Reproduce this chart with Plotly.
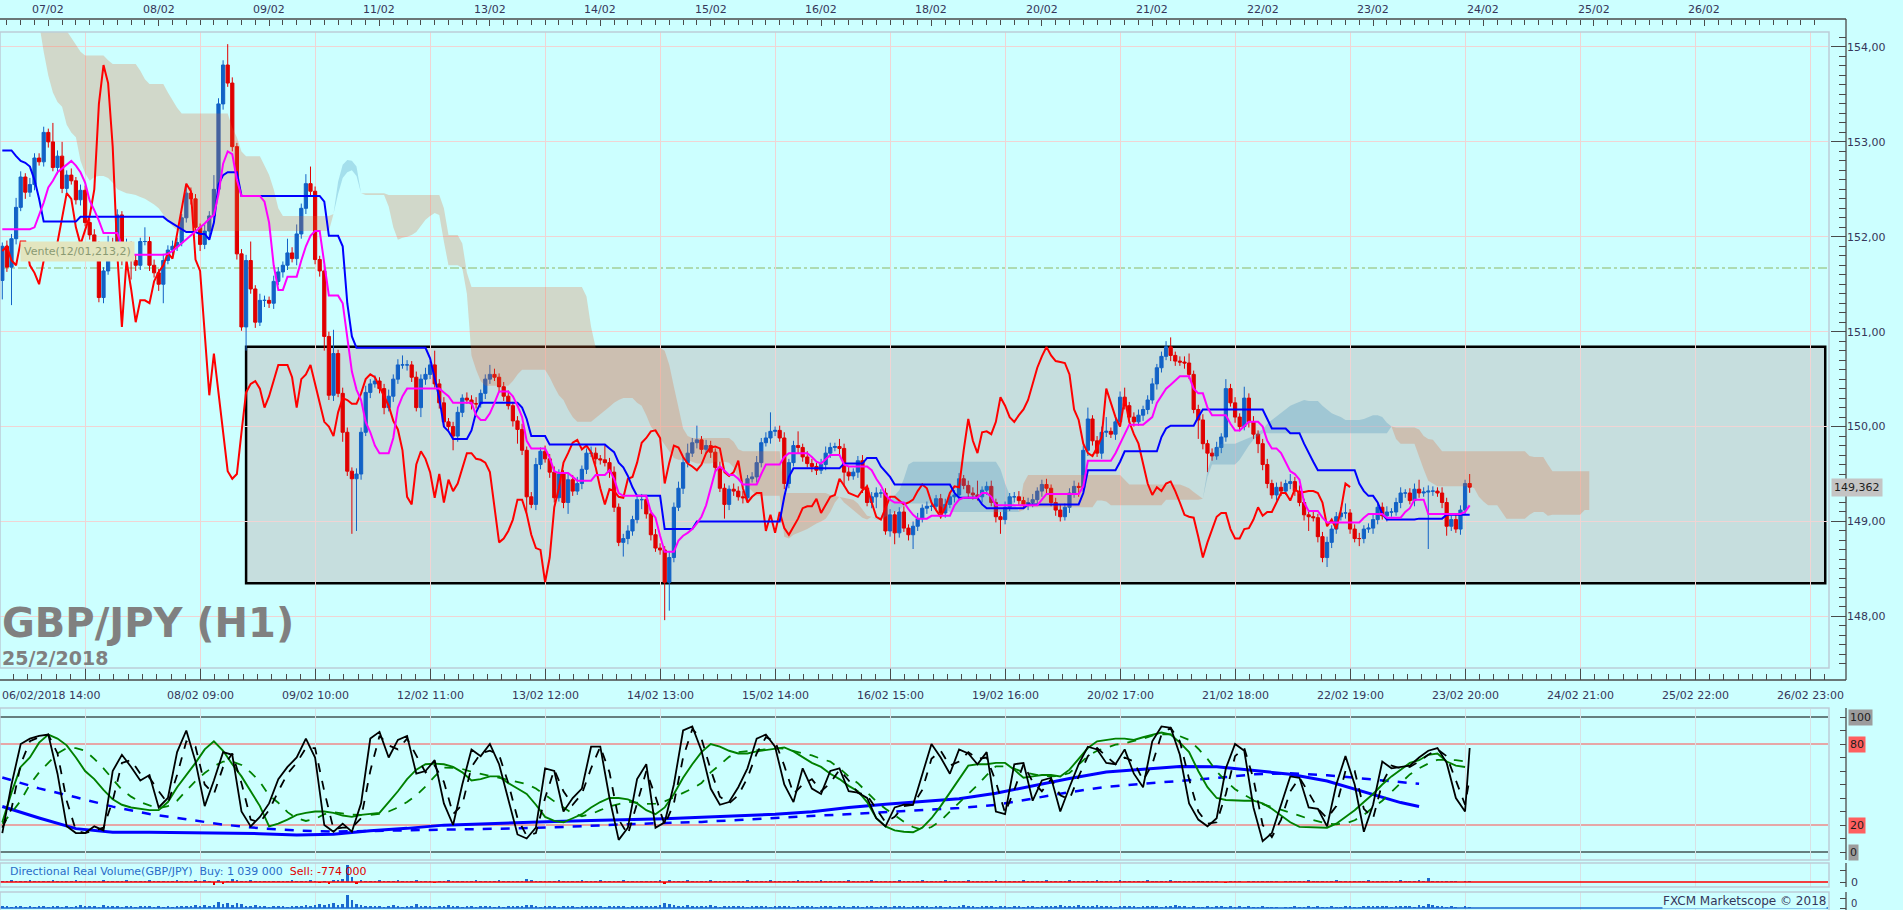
import plotly.graph_objects as go

W, H = 1903, 910

# ---------------- data ----------------
first_open = 151.54
closes = [
    151.90, 151.68, 151.98, 152.31, 152.63, 152.47, 152.55, 152.83, 152.79, 153.10,
    153.00, 152.73, 152.85, 152.51, 152.65, 152.59, 152.39, 152.49, 152.15, 152.02,
    151.90, 151.36, 151.64, 151.94, 151.92, 152.23, 151.85, 151.90, 151.75, 151.70,
    151.95, 151.95, 151.70, 151.62, 151.50, 151.75, 151.86, 151.90, 151.94, 152.20,
    152.46, 152.40, 152.10, 151.92, 152.06, 152.22, 152.50, 153.40, 153.81, 153.62,
    152.95, 151.82, 151.05, 151.75, 151.45, 151.10, 151.33, 151.33, 151.30, 151.53,
    151.63, 151.70, 151.83, 151.77, 152.03, 152.30, 152.56, 152.48, 151.76, 151.64,
    150.95, 150.33, 150.77, 150.35, 149.94, 149.53, 149.45, 149.50, 149.94, 150.36,
    150.45, 150.48, 150.40, 150.20, 150.32, 150.50, 150.65, 150.65, 150.65, 150.52,
    150.20, 150.50, 150.55, 150.65, 150.45, 150.25, 150.05, 150.00, 149.90, 150.15,
    150.30, 150.28, 150.24, 150.24, 150.35, 150.50, 150.55, 150.52, 150.42, 150.32,
    150.22, 150.06, 149.97, 149.75, 149.26, 149.18, 149.60, 149.74, 149.66, 149.52,
    149.25, 149.50, 149.20, 149.44, 149.32, 149.40, 149.55, 149.72, 149.72, 149.66,
    149.65, 149.62, 149.52, 149.15, 148.78, 148.82, 148.90, 149.02, 149.23, 149.23,
    149.08, 148.86, 148.72, 148.70, 148.36, 148.62, 149.15, 149.35, 149.62, 149.72,
    149.83, 149.86, 149.76, 149.80, 149.73, 149.57, 149.35, 149.18, 149.34, 149.32,
    149.26, 149.25, 149.45, 149.47, 149.62, 149.83, 149.88, 149.95, 149.96, 149.88,
    149.40, 149.62, 149.80, 149.78, 149.68, 149.61, 149.58, 149.54, 149.60, 149.72,
    149.78, 149.79, 149.77, 149.52, 149.48, 149.52, 149.64, 149.35, 149.20, 149.26,
    149.30, 149.30, 148.90, 149.07, 148.88, 149.10, 148.93, 148.86, 148.95, 149.03,
    149.14, 149.16, 149.16, 149.24, 149.09, 149.18, 149.26, 149.28, 149.45, 149.38,
    149.30, 149.28, 149.26, 149.33, 149.37, 149.20, 149.05, 149.02, 149.15, 149.26,
    149.26, 149.22, 149.18, 149.20, 149.23, 149.32, 149.39, 149.35, 149.20, 149.12,
    149.05, 149.15, 149.30, 149.37, 149.36, 149.75, 150.08, 149.85, 149.72, 149.94,
    149.95, 149.92, 150.05, 150.31, 150.22, 150.10, 150.05, 150.12, 150.18, 150.28,
    150.45, 150.62, 150.74, 150.84, 150.75, 150.69, 150.68, 150.67, 150.55, 150.18,
    150.07, 149.82, 149.72, 149.69, 149.78, 149.89, 150.40, 150.25, 150.10, 150.00,
    150.30, 150.05, 149.92, 149.82, 149.60, 149.40, 149.28, 149.36, 149.32, 149.40,
    149.42, 149.32, 149.20, 149.07, 149.05, 149.04, 148.84, 148.62, 148.78, 148.92,
    149.05, 149.09, 149.09, 148.92, 148.82, 148.82, 148.92, 148.93, 149.02, 149.15,
    149.06, 149.10, 149.10, 149.20, 149.30, 149.30, 149.22, 149.34, 149.30, 149.31,
    149.32, 149.32, 149.30, 149.20, 148.95, 149.02, 148.92, 149.12, 149.40, 149.362,
]
# wick lengths in pips (0.01)
wick_up = [
    4,6,5,10,6,4,7,5,5,6,4,20,6,15,5,7,4,6,5,4,
    6,5,4,7,5,6,4,8,5,6,4,15,5,6,4,7,5,6,5,4,
    10,6,5,4,7,5,15,6,5,22,6,4,5,6,20,4,7,5,4,6,
    5,4,15,6,10,5,10,18,5,4,6,5,25,4,6,5,4,6,5,7,
    5,6,4,5,7,5,6,10,5,4,6,5,7,4,15,5,6,4,5,6,
    4,6,5,7,4,5,10,6,4,5,6,4,5,6,4,5,7,4,6,5,
    6,5,4,6,5,7,4,5,7,6,4,15,5,6,4,5,6,4,5,6,
    5,4,6,5,4,6,5,7,6,10,5,15,4,6,5,4,6,5,4,6,
    5,6,4,5,7,5,6,20,4,5,6,4,5,15,4,6,5,4,6,7,
    5,4,8,5,6,4,5,6,4,5,6,4,5,6,4,5,6,4,5,6,
    4,5,6,4,5,6,4,5,6,4,5,6,15,4,5,6,4,5,6,4,
    5,6,4,5,6,4,5,6,4,5,6,4,5,6,4,5,12,4,5,6,
    15,4,5,6,10,4,5,6,4,5,6,4,5,6,10,4,5,6,10,4,
    5,6,4,5,6,4,10,5,6,4,12,5,6,4,5,6,4,5,6,4,
    8,5,6,4,5,6,4,5,6,4,5,6,10,4,5,6,4,5,6,4,
    5,6,4,5,6,4,5,6,10,5,6,5,4,6,5,4,6,5,4,10,
]
wick_dn = [
    20,5,40,6,4,7,5,6,4,5,6,4,7,5,6,4,5,6,4,5,
    6,5,6,4,7,5,15,4,20,6,5,4,6,5,7,20,4,6,5,4,
    5,6,4,7,5,6,4,5,6,4,5,6,4,25,5,6,4,7,5,6,
    4,6,5,4,7,5,6,4,5,6,15,5,6,4,10,5,58,55,6,4,
    6,4,5,7,4,6,5,4,6,5,4,10,6,5,4,6,5,4,15,6,
    5,4,6,5,4,6,5,4,6,5,4,6,15,5,20,4,6,5,4,6,
    5,4,6,12,5,4,6,5,4,6,5,4,6,5,4,15,6,5,4,10,
    5,6,4,5,40,30,5,4,6,5,4,6,5,4,6,5,4,15,6,5,
    4,6,5,4,6,5,4,6,5,4,6,5,4,6,5,4,6,5,4,6,
    5,4,6,15,5,4,6,5,4,6,12,5,4,6,12,5,4,6,15,5,
    4,6,5,4,6,5,4,6,5,4,6,5,4,6,5,4,6,15,5,4,
    6,5,4,6,5,4,6,5,4,6,5,4,6,5,10,4,6,5,4,6,
    5,4,6,5,4,6,5,4,6,5,4,6,5,4,6,5,4,6,5,4,
    20,6,20,5,4,6,5,4,6,5,4,6,5,10,6,5,4,6,5,4,
    6,5,4,6,15,4,6,5,10,6,5,4,6,5,4,8,5,4,6,5,
    4,6,5,4,6,5,4,6,5,4,60,5,4,6,10,5,4,6,5,6,
]
# Ichimoku lines, as (value, number of bars) runs
tenkan_runs = [
    (152.08,7),(152.10,1),(152.22,1),(152.36,1),(152.52,1),(152.59,1),(152.68,1),(152.72,1),(152.76,1),(152.80,1),
    (152.75,1),(152.68,1),(152.57,1),(152.38,1),(152.28,1),(152.17,1),(152.04,4),(151.90,1),(151.84,1),(151.81,8),
    (151.82,1),(151.85,1),(151.89,1),(151.93,1),(151.98,1),(152.01,1),(152.05,1),(152.09,1),(152.14,1),(152.19,1),
    (152.23,1),(152.45,1),(152.77,1),(152.90,1),(152.87,1),(152.60,1),(152.43,5),(152.37,1),(152.15,1),(151.70,1),
    (151.44,2),(151.58,3),(151.75,1),(151.90,1),(152.01,1),(152.06,2),(151.72,1),(151.38,3),(151.30,1),(150.95,1),
    (150.58,1),(150.39,1),(150.28,1),(150.05,1),(149.94,1),(149.80,1),(149.72,3),(149.88,1),(150.20,1),(150.32,1),
    (150.40,8),(150.36,1),(150.32,1),(150.25,5),(150.12,1),(150.07,2),(150.14,1),(150.25,1),(150.37,3),(150.32,1),
    (150.22,1),(150.10,1),(149.85,1),(149.77,4),(149.67,1),(149.53,1),(149.51,3),(149.47,1),(149.43,4),(149.49,3),
    (149.54,1),(149.45,1),(149.30,1),(149.27,6),(149.10,1),(149.04,1),(148.85,1),(148.68,3),(148.80,1),(148.85,1),
    (148.88,1),(148.92,1),(148.98,1),(149.05,1),(149.17,1),(149.35,1),(149.53,1),(149.58,1),(149.54,1),(149.49,2),
    (149.45,1),(149.39,4),(149.50,1),(149.60,4),(149.68,1),(149.72,5),(149.68,1),(149.63,1),(149.61,1),(149.66,1),
    (149.70,3),(149.60,1),(149.58,5),(149.54,1),(149.45,1),(149.38,1),(149.28,1),(149.23,1),(149.20,3),(149.13,1),
    (149.07,1),(149.03,3),(149.06,5),(149.17,1),(149.23,1),(149.25,4),(149.30,2),(149.26,1),(149.17,10),(149.23,1),
    (149.29,8),(149.37,1),(149.64,6),(149.72,1),(149.82,1),(149.93,1),(150.02,4),(150.06,1),(150.10,1),(150.25,1),
    (150.32,1),(150.40,1),(150.44,1),(150.48,1),(150.53,3),(150.40,1),(150.35,2),(150.20,1),(150.12,4),(150.03,1),
    (149.96,2),(150.00,1),(150.05,3),(150.00,1),(149.85,1),(149.77,2),(149.72,1),(149.62,1),(149.53,1),(149.50,1),
    (149.44,1),(149.20,1),(149.11,3),(149.04,1),(148.99,8),(149.04,1),(149.08,4),(149.04,4),(149.10,1),(149.14,1),
    (149.23,3),(149.08,8),(149.10,1),(149.17,1),
]
kijun_runs = [
    (152.91,3),(152.85,1),(152.80,1),(152.78,1),(152.74,1),(152.60,1),(152.40,1),(152.16,8),(152.21,19),
    (152.17,1),(152.14,1),(152.11,1),(152.08,1),(152.05,3),(152.03,2),(151.97,1),(152.15,1),(152.55,1),(152.65,1),(152.68,3),
    (152.43,18),(152.37,1),(152.01,3),(151.90,1),(151.30,1),(150.95,1),(150.83,16),(150.72,1),(150.50,1),(150.30,1),(150.00,1),
    (149.95,1),(149.87,4),(149.96,1),(150.15,1),(150.25,9),(150.20,1),(150.08,1),(149.90,4),(149.81,13),(149.77,1),(149.73,1),
    (149.62,1),(149.57,1),(149.48,1),(149.36,1),(149.27,6),(148.92,7),(149.00,19),(149.26,1),(149.47,1),(149.56,11),(149.61,5),
    (149.67,3),(149.58,1),(149.52,1),(149.47,1),(149.39,13),(149.30,1),(149.25,5),(149.18,1),(149.14,9),(149.18,12),(149.30,1),
    (149.54,7),(149.63,1),(149.74,8),(149.89,1),(149.98,1),(150.01,6),(150.10,1),(150.18,14),(150.08,1),(149.98,4),(149.93,3),
    (149.82,1),(149.72,1),(149.63,1),(149.54,9),(149.40,1),(149.32,1),(149.27,2),(149.20,1),(149.08,1),(149.02,7),(149.03,6),(149.07,6),
]
span_a_runs = [
    (154.40,8),(154.25,1),(153.95,1),(153.70,1),(153.52,1),(153.42,1),(153.37,1),(153.18,1),(153.10,1),(153.05,1),
    (152.80,1),(152.67,1),(152.59,1),(152.63,1),(152.64,2),(152.62,1),(152.57,1),(152.50,1),(152.48,1),(152.46,1),(152.45,1),
    (152.44,1),(152.42,1),(152.40,1),(152.37,1),(152.34,1),(152.30,1),(152.23,1),(152.17,1),(152.11,1),(152.07,1),(152.06,33),
    (152.24,1),(152.58,1),(152.76,1),(152.81,1),(152.80,1),(152.74,1),(152.46,1),(152.44,5),(152.32,1),(152.10,1),(151.97,1),
    (151.99,1),(152.00,1),(152.02,1),(152.05,1),(152.11,1),(152.18,1),(152.22,1),(152.25,1),(152.23,1),(151.95,1),(151.70,3),
    (151.67,1),(151.40,1),(150.75,1),(150.60,1),(150.48,1),(150.43,6),(150.48,1),(150.55,1),(150.60,6),(150.52,1),(150.42,1),
    (150.33,1),(150.28,1),(150.18,1),(150.10,1),(150.05,4),(150.10,1),(150.14,1),(150.17,1),(150.21,1),(150.25,1),(150.28,1),
    (150.30,3),(150.25,1),(150.22,1),(150.12,1),(150.00,1),(149.94,1),(149.88,1),(149.82,1),(149.74,1),(149.67,1),(149.65,3),
    (149.63,1),(149.61,4),(149.63,3),(149.62,1),(149.57,1),(149.46,1),(149.42,1),(149.37,1),(149.32,1),(149.27,6),(148.84,1),
    (148.82,1),(148.86,1),(148.88,1),(148.90,1),(148.92,1),(148.95,1),(148.98,1),(149.00,1),(149.03,1),(149.10,1),(149.20,1),
    (149.26,1),(149.20,1),(149.17,1),(149.12,1),(149.08,1),(149.04,1),(149.02,1),(149.05,1),(149.03,1),(149.05,1),(149.16,1),
    (149.22,1),(149.28,1),(149.33,1),(149.45,1),(149.60,1),(149.63,19),(149.55,1),(149.40,1),(149.28,1),(149.18,1),(149.11,1),
    (149.12,1),(149.15,15),(149.22,2),(149.21,1),(149.17,12),(149.23,8),(149.24,1),(149.54,1),(149.68,1),(149.78,1),(149.82,4),
    (149.84,1),(149.86,1),(149.88,1),(149.90,1),(149.94,1),(149.97,1),(150.03,1),(150.07,1),(150.11,1),(150.15,1),(150.19,1),
    (150.22,1),(150.24,1),(150.26,1),(150.28,1),(150.27,3),(150.22,1),(150.18,1),(150.14,1),(150.12,1),(150.10,1),(150.07,4),
    (150.08,1),(150.10,1),(150.12,2),(150.10,1),(150.04,1),(150.00,1),(149.87,1),(149.82,4),(149.68,1),(149.55,1),(149.43,1),
    (149.40,1),(149.37,8),(149.35,1),(149.26,1),(149.21,1),(149.17,3),(149.10,1),(149.03,5),(149.07,1),(149.10,3),(149.06,1),
    (149.07,7),(149.12,2),
]
span_b_runs = [
    (154.60,8),(154.40,6),(154.17,1),(154.10,1),(154.03,1),(153.95,1),(153.91,5),(153.86,1),(153.82,6),(153.75,1),
    (153.66,1),(153.61,4),(153.52,1),(153.44,1),(153.36,1),(153.30,11),(153.15,1),(153.05,1),(152.90,1),(152.85,4),(152.75,1),
    (152.65,1),(152.50,1),(152.30,1),(152.22,11),(152.24,1),(152.45,1),(152.62,1),(152.68,1),(152.70,1),(152.64,1),(152.46,1),
    (152.46,5),(152.44,12),(152.30,1),(152.02,3),(151.93,1),(151.62,1),(151.47,25),(151.37,1),(151.05,1),(150.83,15),(150.80,1),(150.65,1),
    (150.42,1),(150.20,1),(149.98,1),(149.90,1),(149.88,9),(149.84,1),(149.76,1),(149.74,9),(149.30,10),(149.28,1),(149.27,1),
    (149.26,1),(149.25,1),(149.24,1),(149.23,1),(149.19,1),(149.12,1),(149.06,1),(149.05,1),(149.02,2),(149.05,1),(149.08,1),
    (149.10,1),(149.12,1),(149.17,1),(149.19,7),(149.16,1),(149.13,1),(149.10,16),(149.40,1),(149.49,21),(149.44,1),(149.39,12),
    (149.37,1),(149.35,1),(149.31,1),(149.27,1),(149.24,1),(149.47,1),(149.60,6),(149.65,1),(149.72,1),(149.80,1),(149.86,1),
    (149.90,1),(149.93,28),(150.00,1),(149.99,5),(149.97,1),(149.90,1),(149.87,1),(149.86,1),(149.80,1),(149.74,19),(149.69,1),
    (149.68,3),(149.60,1),(149.53,9),
]
# oscillator panel
fast_x = list(range(0, 320, 2)) + [319]
stoch_k = [
    14, 50, 80, 84, 86, 87, 58, 19, 14, 14,
    19, 16, 60, 72, 63, 53, 57, 33, 40, 74,
    90, 67, 34, 53, 74, 72, 30, 19, 26, 36,
    54, 63, 70, 84, 70, 20, 15, 21, 15, 36,
    84, 89, 70, 83, 86, 58, 60, 68, 36, 20,
    50, 76, 71, 80, 65, 38, 13, 10, 18, 62,
    60, 30, 40, 47, 78, 78, 40, 9, 18, 54,
    65, 18, 22, 50, 90, 93, 75, 47, 35, 37,
    48, 62, 84, 87, 78, 50, 37, 62, 47, 43,
    60, 62, 45, 44, 40, 25, 19, 33, 35, 35,
    58, 80, 70, 58, 76, 73, 65, 74, 30, 28,
    65, 66, 38, 53, 55, 30, 48, 65, 78, 76,
    66, 65, 76, 58, 48, 82, 93, 92, 72, 36,
    24, 19, 25, 62, 80, 75, 33, 8, 14, 35,
    56, 55, 33, 32, 19, 50, 71, 50, 15, 35,
    67, 62, 63, 64, 70, 75, 77, 66, 40, 30,
    77,
]
stoch_d = [
    18, 32, 65, 82, 85, 87, 73, 38, 16, 14,
    16, 18, 38, 66, 68, 58, 55, 45, 36, 57,
    82, 78, 50, 43, 63, 73, 51, 24, 22, 31,
    45, 58, 66, 77, 77, 45, 17, 18, 18, 25,
    60, 86, 79, 76, 84, 72, 59, 64, 52, 28,
    35, 63, 73, 75, 72, 51, 25, 12, 14, 40,
    61, 45, 35, 43, 62, 78, 59, 24, 13, 36,
    60, 41, 20, 36, 70, 91, 84, 61, 41, 36,
    42, 55, 73, 85, 82, 64, 43, 50, 54, 45,
    51, 61, 53, 44, 42, 32, 22, 26, 34, 35,
    46, 69, 75, 64, 67, 74, 69, 70, 52, 29,
    46, 65, 52, 45, 54, 42, 39, 56, 71, 77,
    71, 65, 70, 67, 53, 65, 87, 92, 82, 54,
    30, 21, 22, 43, 71, 77, 54, 20, 11, 24,
    45, 55, 44, 32, 25, 34, 60, 60, 32, 25,
    51, 64, 62, 63, 67, 72, 76, 71, 53, 35,
    55,
]
slow_x = list(range(0, 320, 2))
green_k = [
    22, 44, 63, 70, 81, 87, 84, 79, 70, 60,
    54, 46, 39, 35, 33, 32, 31, 31, 37, 48,
    57, 66, 76, 82, 75, 65, 56, 45, 34, 19,
    21, 24, 27.5, 29, 30, 30, 29, 27, 26, 27.5,
    28, 29, 37, 45, 54, 61, 65, 65.5, 65, 63,
    59, 53, 54, 56, 56, 51, 47, 43, 35, 26,
    23, 22, 25, 28, 33, 37, 40, 40, 39, 36,
    31, 28, 33, 43, 55, 65, 74, 80, 78, 75,
    73, 73, 74.5, 75.5, 77, 77.5, 74.5, 70, 66, 63,
    58, 54, 49, 45, 37, 25, 19, 16, 15, 14.6,
    18, 25, 34, 44, 54, 64, 65, 65, 66, 66,
    61, 55, 56, 57, 57, 56, 61, 69, 77, 82,
    83, 84, 84, 83, 85, 87, 88.5, 87, 81, 74,
    60, 48, 40, 38.5, 38, 38, 38, 36, 32, 27,
    22, 18.6, 18.5, 18.2, 18, 21, 26, 31, 37, 43,
    50, 56, 61, 66, 68, 72, 73, 67, 64, 63,
]
green_d = [
    21, 29, 38, 50, 59, 66, 73, 77, 77, 75,
    69, 62, 54, 46, 41, 37, 34.5, 32.5, 34, 38,
    45.5, 52.5, 58.5, 63.5, 67, 67, 64.5, 59, 52, 42,
    36.5, 29.5, 25, 23, 24.5, 28, 29.5, 28.7, 27.6, 27.5,
    27.5, 28.2, 30, 33, 37, 42, 48.5, 56, 62.5, 62.3,
    61.5, 59.5, 58, 56.5, 54.7, 53.7, 52, 50.3, 47, 42,
    37.5, 33, 28.5, 26.5, 28, 31, 33.7, 35.5, 37.2, 36.5,
    35.6, 35.8, 37.5, 40.5, 43.5, 47, 51, 59, 64.6, 70.5,
    74, 75, 75.5, 76, 77, 76.5, 75, 73.5, 71.5, 69,
    67, 62, 56, 51, 44.5, 37.5, 32, 27, 22.5, 18.5,
    16.5, 18.5, 23, 30, 36.5, 42.5, 49.5, 57, 63.5, 63.5,
    61.8, 59, 57.5, 56.5, 56, 56.5, 58.5, 65, 71, 75,
    77.5, 79.5, 80.5, 82, 84, 86.2, 87.2, 87.2, 85.8, 83,
    76.5, 69, 59.7, 52.5, 46.5, 42.3, 38.5, 35.5, 33.5, 31,
    29, 27, 24.5, 23, 21, 20.5, 21.2, 23.5, 27.5, 33,
    38, 44.5, 51, 57.5, 62, 65.5, 68.3, 68.3, 68, 67,
]
blue_x = list(range(0, 305, 8)) + [308]
blue_k = [33.7, 25.2, 17.3, 14.6, 14.6, 14.4, 14.1, 13.6, 12.6, 13.1,
          15.8, 17.5, 19.9, 20.9, 21.7, 22.5, 23.3, 23.9, 24.7, 25.7,
          26.6, 28.0, 29.8, 32.9, 35.4, 37.3, 39.5, 43.5, 49.0, 54.5,
          59.2, 61.5, 63.4, 63.2, 60.3, 57.6, 52.6, 44.7, 36.6, 33.7]
blue_d = [55.2, 47.1, 40.5, 33.6, 28.1, 24.0, 20.3, 17.6, 15.9, 15.1,
          15.6, 15.9, 16.2, 16.8, 17.5, 18.3, 19.6, 20.6, 21.5, 22.3,
          23.7, 25.2, 26.6, 28.0, 29.3, 31.1, 32.5, 34.9, 39.5, 44.3,
          48.3, 50.4, 52.7, 54.9, 57.5, 58.4, 56.9, 54.2, 51.4, 50.5]
# volume panels
vol_net = [
    1,1,2,1,1,1,2,1,1,1,1,2,1,1,1,1,2,1,1,1,
    1,1,2,1,1,1,1,2,1,1,1,1,2,1,1,1,1,1,2,1,
    1,1,2,1,2,1,-3,2,-2,1,3,2,1,1,2,1,1,1,1,1,
    1,1,1,2,1,1,1,2,1,-1,1,-2,2,2,3,17,5,-2,2,1,
    1,1,2,1,1,1,2,1,1,1,2,1,1,1,-1,1,1,2,1,1,
    1,1,1,2,1,1,1,1,2,1,1,1,1,1,3,2,1,1,1,1,
    1,2,1,1,1,1,2,1,1,1,2,1,1,1,1,2,1,1,1,1,
    1,1,1,2,-2,2,1,1,1,2,1,1,1,1,2,1,1,1,1,1,
    1,1,2,1,1,1,1,2,1,1,1,1,1,2,1,1,1,1,2,1,
    1,1,1,1,2,1,1,1,1,2,1,1,1,1,1,2,1,1,1,1,
    2,1,1,1,1,2,1,1,1,1,2,1,1,1,1,1,2,1,1,1,
    1,1,2,1,1,1,1,2,1,1,1,1,2,1,1,1,1,1,2,1,
    1,1,1,2,1,1,1,1,1,2,1,1,1,1,2,1,1,1,1,1,
    1,1,1,1,1,0,-1,1,1,1,0,1,1,1,1,1,1,1,0,1,
    1,1,1,1,2,1,1,1,1,1,2,1,1,1,1,1,1,2,1,1,
    1,1,1,1,2,1,1,1,2,1,4,1,1,1,1,1,1,0,1,1,
]
vol_total = [
    2,2,1,2,2,1,2,1,2,2,1,2,2,1,2,1,2,3,2,2,
    2,1,3,2,2,2,1,2,2,1,2,2,2,1,2,1,2,1,2,2,
    2,2,3,2,3,2,3,6,4,5,3,5,4,2,2,3,2,2,1,2,
    2,2,1,2,2,2,3,2,3,4,3,4,5,3,4,13,8,4,3,2,
    2,2,2,1,2,3,2,1,2,2,4,2,2,2,1,2,2,3,2,2,
    1,2,2,1,2,2,2,1,2,1,2,2,2,2,3,3,2,1,2,2,
    2,1,2,2,2,1,2,2,2,2,2,1,2,2,2,2,1,2,2,2,
    2,2,2,3,5,4,3,2,2,3,2,2,2,2,3,2,1,2,2,2,
    2,2,1,2,2,2,2,1,2,2,2,2,1,2,2,2,2,1,2,2,
    2,1,2,2,1,2,2,1,2,2,1,2,2,1,2,2,2,1,2,2,
    2,2,1,2,2,1,2,1,2,3,2,2,1,2,2,2,1,2,2,1,
    2,2,1,2,2,1,2,2,2,2,3,2,2,2,3,2,2,2,3,2,
    2,2,1,2,2,2,2,1,2,2,2,2,1,2,2,3,2,2,1,2,
    1,1,2,1,2,2,1,2,1,2,1,2,1,1,2,1,1,1,0,1,
    1,2,1,1,2,1,2,1,1,2,1,1,2,2,1,1,2,2,2,2,
    2,2,1,2,2,2,2,1,3,2,4,3,2,2,1,2,1,0,2,1,
]
day_labels = ["07/02", "08/02", "09/02", "11/02", "13/02", "14/02", "15/02", "16/02",
              "18/02", "20/02", "21/02", "22/02", "23/02", "24/02", "25/02", "26/02"]
time_labels = ["06/02/2018 14:00", "08/02 09:00", "09/02 10:00", "12/02 11:00", "13/02 12:00",
               "14/02 13:00", "15/02 14:00", "16/02 15:00", "19/02 16:00", "20/02 17:00",
               "21/02 18:00", "22/02 19:00", "23/02 20:00", "24/02 21:00", "25/02 22:00",
               "26/02 23:00"]
price_ticks = [148, 149, 150, 151, 152, 153, 154]
signal_level = 151.67
box_bars = [53, 396.3]
box_prices = [148.35, 150.84]
chikou_shift = 26

# ---------------- helpers ----------------
N = 320
NC = 346


def expand(runs, n):
    out = []
    for v, k in runs:
        out += [v] * k
    out = out[:n]
    while len(out) < n:
        out.append(out[-1])
    return out


def fit(a, n):
    a = list(a)[:n]
    while len(a) < n:
        a.append(a[-1])
    return a


def py(p):
    return 1 - p / H


def pxp(p):
    return p / W


closes = fit(closes, N)
wick_up = fit(wick_up, N)
wick_dn = fit(wick_dn, N)
vol_net = fit(vol_net, N)
vol_total = fit(vol_total, N)
bars = list(range(N))
opens = [first_open] + closes[:-1]
highs = [max(o, c) + u / 100 for o, c, u in zip(opens, closes, wick_up)]
lows = [min(o, c) - d / 100 for o, c, d in zip(opens, closes, wick_dn)]
tenkan = expand(tenkan_runs, N)
kijun = expand(kijun_runs, N)
span_a = expand(span_a_runs, NC)
span_b = expand(span_b_runs, NC)

stoch_k = fit(stoch_k, len(fast_x))
stoch_d = fit(stoch_d, len(fast_x))
green_k = fit(green_k, len(slow_x))
green_d = fit(green_d, len(slow_x))
blue_k = fit(blue_k, len(blue_x))
blue_d = fit(blue_d, len(blue_x))

grid_x = [18 + 25 * k for k in range(16)]
day_x = [10 + 24 * k for k in range(16)]
minor_top = [10 + 3 * k for k in range(-3, 130) if -0.5 <= 10 + 3 * k <= 396.9]
minor_bottom = [18 + 3.125 * k for k in range(-5, 122) if -0.5 <= 18 + 3.125 * k <= 396.9]
minor_price = [round(147.5 + 0.1 * i, 2) for i in range(67)]

BG = "#ccffff"
TXT = "#36365a"
AXC = "#4a4a4a"
GRID_MAIN = "#f0d4d4"
GRID_SUB = "#d8e0e4"
KUMO_DN = "rgba(225,100,45,0.25)"
KUMO_UP = "rgba(60,140,187,0.28)"
XR = [-0.5, 396.9]
XD = 1828 / W
AXX = 1846 / W
FONT = "DejaVu Sans"

fig = go.Figure()

# ---- kumo (cloud) segments ----
sg = []
for i in range(NC):
    d = span_a[i] - span_b[i]
    sg.append(1 if d > 1e-9 else (-1 if d < -1e-9 else 0))
segs = []
i0 = 0
cur = 0
for i in range(NC):
    s = sg[i]
    if s == 0:
        continue
    if cur == 0:
        cur = s
        continue
    if s != cur:
        segs.append((i0, i - 1, cur))
        i0 = i - 1
        cur = s
segs.append((i0, NC - 1, cur))
for a0, a1, s in segs:
    if s == 0:
        continue
    xs = list(range(a0, a1 + 1))
    up = [max(span_a[i], span_b[i]) for i in xs]
    lo = [min(span_a[i], span_b[i]) for i in xs]
    fig.add_trace(go.Scatter(x=xs + xs[::-1], y=up + lo[::-1], mode="lines", fill="toself",
                             fillcolor=KUMO_UP if s > 0 else KUMO_DN, line=dict(width=0),
                             hoverinfo="skip", showlegend=False))

# ---- candles ----
fig.add_trace(go.Candlestick(
    x=bars, open=opens, high=highs, low=lows, close=closes,
    increasing=dict(line=dict(color="#1262c6", width=1), fillcolor="#1262c6"),
    decreasing=dict(line=dict(color="#e00000", width=1), fillcolor="#e00000"),
    whiskerwidth=0, hoverinfo="skip", showlegend=False))

# ---- chikou, kijun, tenkan ----
fig.add_trace(go.Scatter(x=[i - chikou_shift for i in range(chikou_shift, N)], y=closes[chikou_shift:],
                         mode="lines", line=dict(color="#ff0000", width=2), hoverinfo="skip", showlegend=False))
fig.add_trace(go.Scatter(x=bars, y=kijun, mode="lines", line=dict(color="#0000ff", width=2),
                         hoverinfo="skip", showlegend=False))
fig.add_trace(go.Scatter(x=bars, y=tenkan, mode="lines", line=dict(color="#ff00ff", width=2),
                         hoverinfo="skip", showlegend=False))

# ---- day markers on the top time axis ----
fig.add_trace(go.Scatter(x=day_x, y=[154.235] * len(day_x), mode="markers",
                         marker=dict(symbol="triangle-down", size=9, color="#f5a31a", line=dict(width=0)),
                         cliponaxis=False, hoverinfo="skip", showlegend=False))

# dummy traces to activate the extra time axes
fig.add_trace(go.Scatter(x=[XR[0] - 5], y=[150], xaxis="x5", yaxis="y", mode="markers",
                         marker=dict(opacity=0), hoverinfo="skip", showlegend=False))
fig.add_trace(go.Scatter(x=[XR[0] - 5], y=[150], xaxis="x6", yaxis="y", mode="markers",
                         marker=dict(opacity=0), hoverinfo="skip", showlegend=False))

# ---- oscillator ----
osc = [
    (blue_x, blue_d, "#0000ff", 2.5, "dash"),
    (blue_x, blue_k, "#0000ff", 3.0, "solid"),
    (slow_x, green_d, "#008000", 1.8, "dash"),
    (slow_x, green_k, "#008000", 1.9, "solid"),
    (fast_x, stoch_d, "#000000", 1.8, "dash"),
    (fast_x, stoch_k, "#000000", 1.8, "solid"),
]
for xs, ys, col, lw, dash in osc:
    fig.add_trace(go.Scatter(x=xs, y=ys, xaxis="x2", yaxis="y2", mode="lines",
                             line=dict(color=col, width=lw, dash=dash), hoverinfo="skip", showlegend=False))

# ---- volumes ----
fig.add_trace(go.Bar(x=bars, y=vol_net, xaxis="x3", yaxis="y3", width=0.6,
                     marker=dict(color=["#1a6ad0" if v >= 0 else "#e00000" for v in vol_net], line=dict(width=0)),
                     hoverinfo="skip", showlegend=False))
fig.add_trace(go.Bar(x=bars, y=vol_total, xaxis="x4", yaxis="y4", width=0.6,
                     marker=dict(color="#1a6ad0", line=dict(width=0)), hoverinfo="skip", showlegend=False))

# ---------------- shapes ----------------
shapes = []
shapes.append(dict(type="rect", xref="x", yref="y", x0=box_bars[0], x1=box_bars[1],
                   y0=box_prices[0], y1=box_prices[1], fillcolor="#c6dede",
                   line=dict(color="#000000", width=2.5), layer="below"))
shapes.append(dict(type="line", xref="x", yref="y", x0=XR[0], x1=XR[1], y0=signal_level, y1=signal_level,
                   line=dict(color="#a2cf98", width=1.5, dash="dashdot"), layer="below"))
for lv, col in [(100, "#000000"), (0, "#000000"), (80, "#ff5050"), (20, "#ff5050")]:
    shapes.append(dict(type="line", xref="x2 domain", yref="y2", x0=0, x1=1, y0=lv, y1=lv,
                       line=dict(color=col, width=1.2), layer="below"))
shapes.append(dict(type="line", xref="x3 domain", yref="y3", x0=0, x1=1, y0=0, y1=0,
                   line=dict(color="#ff0000", width=1.5)))
shapes.append(dict(type="line", xref="x4 domain", yref="y4", x0=0, x1=1, y0=0, y1=0,
                   line=dict(color="#1a6ad0", width=1.5)))
for top, bot in [(32, 668), (708, 860), (863, 887), (892, 912)]:
    shapes.append(dict(type="rect", xref="paper", yref="paper", x0=0, x1=pxp(1829), y0=py(bot), y1=py(top),
                       line=dict(color="#bccdd7", width=1.5), fillcolor="rgba(0,0,0,0)"))
for yy in (19, 680):
    shapes.append(dict(type="line", xref="paper", yref="paper", x0=0, x1=AXX, y0=py(yy), y1=py(yy),
                       line=dict(color=AXC, width=1.3)))
for top, bot in [(19, 680), (708, 860), (863, 887), (892, 912)]:
    shapes.append(dict(type="line", xref="paper", yref="paper", x0=AXX, x1=AXX, y0=py(bot), y1=py(top),
                       line=dict(color=AXC, width=1.3)))

# ---------------- annotations ----------------
ann = []
ann.append(dict(x=0, xref="paper", y=py(695), yref="paper", text=time_labels[0], showarrow=False,
                xanchor="left", yanchor="middle", font=dict(size=11, color=TXT, family=FONT)))
for k in range(1, len(grid_x)):
    ann.append(dict(x=grid_x[k], xref="x", y=py(695), yref="paper", text=time_labels[k], showarrow=False,
                    xanchor="center", yanchor="middle", font=dict(size=11, color=TXT, family=FONT)))
for k in range(len(day_x)):
    ann.append(dict(x=day_x[k], xref="x", y=py(10), yref="paper", text=day_labels[k], showarrow=False,
                    xanchor="center", yanchor="middle", font=dict(size=11, color=TXT, family=FONT)))
ann.append(dict(x=0, xref="paper", y=py(623), yref="paper", text="<b>GBP/JPY (H1)</b>", showarrow=False,
                xanchor="left", yanchor="middle", font=dict(size=40, color="#808080", family=FONT)))
ann.append(dict(x=0, xref="paper", y=py(658), yref="paper", text="<b>25/2/2018</b>", showarrow=False,
                xanchor="left", yanchor="middle", font=dict(size=19, color="#808080", family=FONT)))
ann.append(dict(x=3.9, xref="x", y=151.84, yref="y", text="Vente(12/01,213,2)", showarrow=False,
                xanchor="left", yanchor="middle", bgcolor="#e3e5bf", borderpad=3,
                font=dict(size=11, color="#8a9a72", family=FONT)))
ann.append(dict(x=pxp(1831), xref="paper", y=closes[-1], yref="y", text=f"{closes[-1]:.3f}".replace(".", ","),
                showarrow=False, xanchor="left", yanchor="middle", bgcolor="#c4c4c4", borderpad=2,
                font=dict(size=11, color="#1e1e1e", family=FONT)))
for lv, bgc in [(100, "#9c9c9c"), (80, "#ff5f5f"), (20, "#ff5f5f"), (0, "#9c9c9c")]:
    ann.append(dict(x=pxp(1848), xref="paper", y=lv, yref="y2", text=str(lv), showarrow=False,
                    xanchor="left", yanchor="middle", bgcolor=bgc, borderpad=1,
                    font=dict(size=11, color="#1e1e1e", family=FONT)))
ann.append(dict(x=pxp(1849), xref="paper", y=0, yref="y3", text="0", showarrow=False,
                xanchor="left", yanchor="middle", font=dict(size=11, color=TXT, family=FONT)))
ann.append(dict(x=pxp(1849), xref="paper", y=py(903), yref="paper", text="0", showarrow=False,
                xanchor="left", yanchor="middle", font=dict(size=10, color=TXT, family=FONT)))
nb = "\u00a0"
ann.append(dict(x=pxp(8), xref="paper", y=py(871), yref="paper",
                text=f"Directional{nb}Real{nb}Volume(GBP/JPY){nb}{nb}Buy:{nb}1{nb}039{nb}000{nb}{nb}"
                     f"<span style='color:#e00000'>Sell:{nb}-774{nb}000</span>",
                showarrow=False, xanchor="left", yanchor="middle",
                font=dict(size=11, color="#2a6cc8", family=FONT)))
ann.append(dict(x=pxp(1827), xref="paper", y=py(901), yref="paper", text="FXCM Marketscope © 2018",
                showarrow=False, xanchor="right", yanchor="middle", bgcolor=BG, borderpad=0,
                font=dict(size=12, color=TXT, family=FONT)))

# ---------------- layout ----------------
sub_x = dict(domain=[0, XD], matches="x", showgrid=True, gridcolor=GRID_SUB, gridwidth=1,
             tickmode="array", tickvals=grid_x, showticklabels=False, ticks="", zeroline=False, showline=False)
fig.update_layout(
    width=W, height=H, autosize=False, margin=dict(l=0, r=0, t=0, b=0),
    paper_bgcolor=BG, plot_bgcolor=BG, showlegend=False, hovermode=False,
    boxgap=0.3, boxgroupgap=0.0, bargap=0,
    font=dict(family=FONT, size=11, color=TXT),
    xaxis=dict(domain=[0, XD], range=XR, anchor="y", showgrid=True, gridcolor=GRID_MAIN, gridwidth=1,
               tickmode="array", tickvals=grid_x, showticklabels=False, ticks="", zeroline=False,
               showline=False, rangeslider=dict(visible=False)),
    yaxis=dict(domain=[py(668), py(32)], range=[147.456, 154.158], anchor="free", position=AXX, side="right",
               showgrid=True, gridcolor=GRID_MAIN, gridwidth=1, tickmode="array", tickvals=price_ticks,
               ticktext=[f"{v:.2f}".replace(".", ",") for v in price_ticks],
               ticks="inside", ticklen=15, tickcolor=AXC, tickwidth=1,
               minor=dict(ticks="inside", ticklen=7, tickcolor=AXC, tickmode="array", tickvals=minor_price,
                          showgrid=False),
               zeroline=False, showline=False, tickfont=dict(size=11, color=TXT, family=FONT)),
    xaxis2=dict(anchor="y2", **sub_x),
    yaxis2=dict(domain=[py(860), py(709)], range=[-5.93, 105.93], anchor="free", position=AXX, side="right",
                showgrid=False, tickmode="array", tickvals=list(range(0, 101, 10)), ticks="inside", ticklen=6,
                tickcolor=AXC, showticklabels=False, zeroline=False, showline=False),
    xaxis3=dict(anchor="y3", **sub_x),
    yaxis3=dict(domain=[py(887), py(863)], range=[-5, 19], anchor="free", position=AXX, side="right",
                showgrid=False, tickmode="array", tickvals=[0, 12], ticks="inside", ticklen=6, tickcolor=AXC,
                showticklabels=False, zeroline=False, showline=False),
    xaxis4=dict(anchor="y4", **sub_x),
    yaxis4=dict(domain=[py(910), py(892)], range=[-2, 16], anchor="free", position=AXX, side="right",
                showgrid=False, tickmode="array", tickvals=[0, 10], ticks="inside", ticklen=6, tickcolor=AXC,
                showticklabels=False, zeroline=False, showline=False),
    xaxis5=dict(overlaying="x", anchor="free", position=py(680), side="bottom", range=XR,
                tickmode="array", tickvals=grid_x, showticklabels=False, ticks="inside", ticklen=12,
                tickcolor=AXC, tickwidth=1,
                minor=dict(ticks="inside", ticklen=6, tickcolor=AXC, tickmode="array", tickvals=minor_bottom),
                showgrid=False, zeroline=False, showline=False),
    xaxis6=dict(overlaying="x", anchor="free", position=py(19), side="top", range=XR,
                tickmode="array", tickvals=day_x, showticklabels=False, ticks="inside", ticklen=6,
                tickcolor=AXC, tickwidth=1,
                minor=dict(ticks="inside", ticklen=5, tickcolor=AXC, tickmode="array", tickvals=minor_top),
                showgrid=False, zeroline=False, showline=False),
    shapes=shapes,
    annotations=ann,
)

fig.write_html("out.html", include_plotlyjs=True, full_html=True,
               config={"displayModeBar": False},
               post_script="document.body.style.margin='0';document.body.style.overflow='hidden';")
